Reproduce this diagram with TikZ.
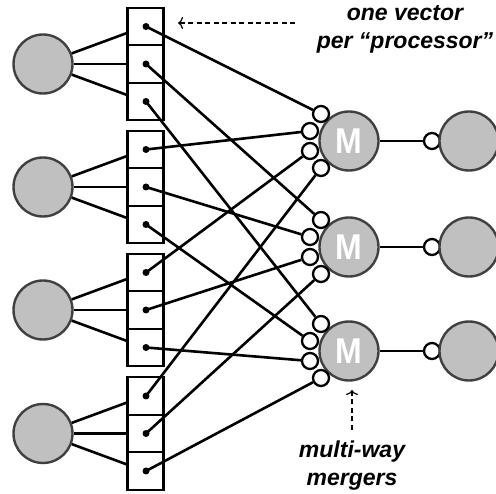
\documentclass[tikz,border=0pt]{standalone}
\usepackage{fontspec}
\setmainfont{Liberation Sans}
\usetikzlibrary{arrows.meta,calc}
\definecolor{discgray}{RGB}{192,192,192}
\definecolor{rimgray}{RGB}{64,64,64}

\begin{document}
\begin{tikzpicture}[x=1pt,y=-1pt,
  disc/.style={circle,draw=rimgray,fill=discgray,line width=2.4pt,minimum size=59pt,inner sep=0pt},
  port/.style={circle,draw=black,fill=white,line width=2.3pt,minimum size=16pt,inner sep=0pt},
  slot/.style={draw=black,fill=white,line width=2.4pt,minimum width=36pt,minimum height=37.5pt,inner sep=0pt},
  pin/.style={circle,fill=black,minimum size=7pt,inner sep=0pt},
  wire/.style={line width=2.6pt},
  hint/.style={dashed,dash pattern=on 5pt off 3.5pt,line width=1.2pt,-{To[length=5pt,width=12pt]}},
  note/.style={font=\bfseries\itshape\fontsize{23}{28}\selectfont,align=center},
  mlabel/.style={text=white,font=\bfseries\fontsize{32}{32}\selectfont}]

\useasboundingbox (0,0) rectangle (496,494);
\clip (0,0) rectangle (496,494);

% processors with their three vector slots
\foreach \g/\c in {1/64,2/187,3/310,4/433.5}{
  \node[disc] (p\g) at (43,\c) {};
  \foreach \i/\o in {1/-37.5,2/0,3/37.5}
    \node[slot] (b\g\i) at (145.5,\c+\o) {};
  \coordinate (e\g1) at (127,\c-31);
  \coordinate (e\g2) at (127,\c);
  \coordinate (e\g3) at (127,\c+31);
  \foreach \i in {1,2,3}
    \draw[wire] (p\g) -- (e\g\i);
}

% multi-way mergers and their outputs
\foreach \m/\c in {1/141,2/247,3/351}{
  \node[disc,mlabel] (m\m) at (349,\c) {\scalebox{1}[1.12]{M}};
  \node[port] (o\m) at (432,\c) {};
  \node[disc] (r\m) at (469,\c) {};
  \draw[wire] (m\m) -- (o\m);
}

% slot pins
\foreach \g/\c in {1/64,2/187,3/310,4/433.5}
  \foreach \i/\o in {1/-37.5,2/0,3/37.5}
    \node[pin] (d\g\i) at (146,\c+\o) {};

% merger input ports
\foreach \m in {1,2,3}{
  \node[port] (q\m1) at ($(m\m)+(-28,-27)$) {};
  \node[port] (q\m2) at ($(m\m)+(-39,-10)$) {};
  \node[port] (q\m3) at ($(m\m)+(-39,10)$) {};
  \node[port] (q\m4) at ($(m\m)+(-28,27)$) {};
}

% vector i of processor g feeds input g of merger i
\foreach \g in {1,2,3,4}
  \foreach \i in {1,2,3}
    \draw[wire] (d\g\i.center) -- (q\i\g);

% annotations
\node[note] (t1) at (405,29) {one vector\\per “processor”};
\coordinate (a1) at (295,23);
\coordinate (a2) at (178,23);
\draw[hint] (a1) -- (a2);

\node[note] (t2) at (352,466) {multi-way\\mergers};
\coordinate (a3) at (352,430);
\coordinate (a4) at (352,390);
\draw[hint] (a3) -- (a4);
\end{tikzpicture}
\end{document}
